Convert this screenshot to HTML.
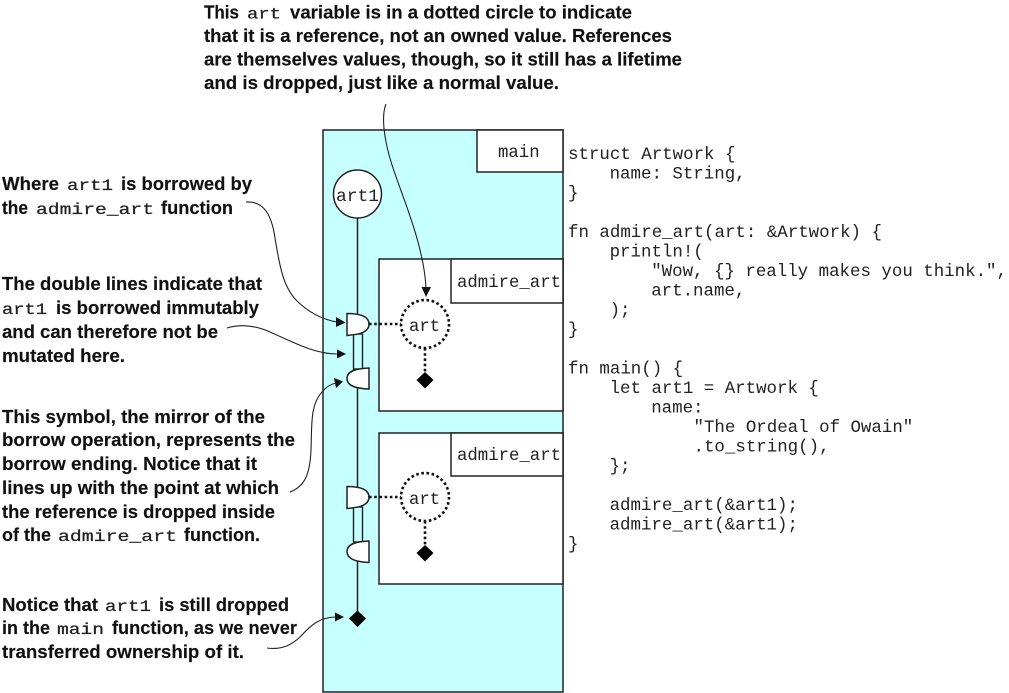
<!DOCTYPE html>
<html><head><meta charset="utf-8"><style>
html,body{margin:0;padding:0;background:#fff}
svg{display:block}
.b{font:bold 18.8px "Liberation Sans",sans-serif;fill:#111;stroke:#111;stroke-width:.15}
.m{font:16px "Liberation Mono",monospace;fill:#222;stroke:#222;stroke-width:.25}
.c{font:17.45px "Liberation Mono",monospace;fill:#222;white-space:pre}
.l{font:17.33px "Liberation Mono",monospace;fill:#222}
.box{stroke:#222;stroke-width:1.5}
.w{fill:#fff;stroke:#222;stroke-width:1.5}
.a{fill:none;stroke:#222;stroke-width:1.1}
.d{fill:none;stroke:#111;stroke-width:2.6;stroke-dasharray:2.6 2.6}
</style></head><body>
<svg width="1009" height="693" viewBox="0 0 1009 693" xmlns="http://www.w3.org/2000/svg">
<rect x="323" y="130" width="240" height="562" fill="#c6ffff" class="box"/>
<rect x="477" y="130" width="86" height="42" class="w"/>
<text class="l" x="498" y="157">main</text>

<line x1="357.5" y1="218" x2="357.5" y2="618" stroke="#222" stroke-width="1.5"/>
<circle cx="357.5" cy="194" r="24" class="w"/>
<text class="l" x="336" y="201" textLength="43" lengthAdjust="spacingAndGlyphs">art1</text>

<rect x="379" y="259" width="184" height="152" class="w"/>
<rect x="451" y="259" width="112" height="44" class="w"/>
<text class="l" x="457" y="287" textLength="104" lengthAdjust="spacingAndGlyphs">admire_art</text>
<rect x="379" y="433" width="184" height="151" class="w"/>
<rect x="451" y="433" width="112" height="43" class="w"/>
<text class="l" x="457" y="460" textLength="104" lengthAdjust="spacingAndGlyphs">admire_art</text>

<!-- double lines -->
<rect x="353.5" y="334" width="9" height="35" fill="#c6ffff" stroke="#222" stroke-width="1.4"/>
<rect x="353.5" y="507" width="9" height="35" fill="#c6ffff" stroke="#222" stroke-width="1.4"/>

<!-- borrow symbols -->
<path d="M347 313.5 C360 313.5 369 316 369 324 C369 332 360 334.5 347 335.5 Z" class="w"/>
<path d="M369 368 C356 368.5 347 371 347 378.5 C347 386 356 388.5 369 389 Z" class="w"/>
<path d="M347 486.5 C360 486.5 369 489 369 497 C369 505 360 507.5 347 508.5 Z" class="w"/>
<path d="M369 541 C356 541.5 347 544 347 551.5 C347 559 356 562 369 562.5 Z" class="w"/>

<!-- art circles -->
<line x1="369" y1="324" x2="401" y2="324" class="d"/>
<line x1="425" y1="348" x2="425" y2="372" class="d"/>
<circle cx="425" cy="324" r="24" class="d" style="fill:#fff"/>
<text class="l" x="409" y="331" textLength="31" lengthAdjust="spacingAndGlyphs">art</text>
<path d="M425 372 L433.5 380 L425 388.5 L416.5 380 Z" fill="#000"/>
<line x1="369" y1="497" x2="401" y2="497" class="d"/>
<line x1="425" y1="521" x2="425" y2="545" class="d"/>
<circle cx="425" cy="497" r="24" class="d" style="fill:#fff"/>
<text class="l" x="409" y="504" textLength="31" lengthAdjust="spacingAndGlyphs">art</text>
<path d="M425 545 L433.5 553 L425 561.5 L416.5 553 Z" fill="#000"/>
<path d="M357.5 610.5 L366 618.5 L357.5 627 L349 618.5 Z" fill="#000"/>

<!-- arrows -->
<path class="a" d="M386 104 C381 116 384 140 392 165 C402 196 424 245 426 288"/>
<path d="M421.5 287 L431 287 L426 297 Z" fill="#111"/>
<path class="a" d="M246 202 C262 201 270 212 274 232 C279 262 282 285 296 300 C310 314 325 320 337 322"/>
<path d="M336 317 L345.5 322.5 L336 327 Z" fill="#111"/>
<path class="a" d="M227 328 C240 324 254 325 270 332 C295 343 315 354 337 354"/>
<path d="M337 349.5 L346 354 L337 358.5 Z" fill="#111"/>
<path class="a" d="M290 492 C306 486 310 472 311 450 C312 425 310 405 322 392 C326 387 331 384 336 383"/>
<path d="M334 378 L343 381.5 L336 388 Z" fill="#111"/>
<path class="a" d="M267 648 C282 650 292 645 301 636 C311 625 320 617 336 617"/>
<path d="M335 612.5 L344 617 L335 621.5 Z" fill="#111"/>

<!-- top note -->
<text class="b" x="204" y="18.5" textLength="35" lengthAdjust="spacingAndGlyphs">This</text>
<text class="m" x="247" y="18.5" textLength="34" lengthAdjust="spacingAndGlyphs">art</text>
<text class="b" x="290" y="18.5" textLength="342" lengthAdjust="spacingAndGlyphs">variable is in a dotted circle to indicate</text>
<text class="b" x="204" y="42" textLength="468" lengthAdjust="spacingAndGlyphs">that it is a reference, not an owned value. References</text>
<text class="b" x="204" y="65.5" textLength="478" lengthAdjust="spacingAndGlyphs">are themselves values, though, so it still has a lifetime</text>
<text class="b" x="204" y="89" textLength="355" lengthAdjust="spacingAndGlyphs">and is dropped, just like a normal value.</text>

<!-- left notes -->
<text class="b" x="2" y="190" textLength="57" lengthAdjust="spacingAndGlyphs">Where</text>
<text class="m" x="67" y="190" textLength="46" lengthAdjust="spacingAndGlyphs">art1</text>
<text class="b" x="121" y="190" textLength="131" lengthAdjust="spacingAndGlyphs">is borrowed by</text>
<text class="b" x="2" y="214" textLength="26" lengthAdjust="spacingAndGlyphs">the</text>
<text class="m" x="36" y="214" textLength="118" lengthAdjust="spacingAndGlyphs">admire_art</text>
<text class="b" x="161" y="214" textLength="72" lengthAdjust="spacingAndGlyphs">function</text>

<text class="b" x="2" y="290" textLength="260" lengthAdjust="spacingAndGlyphs">The double lines indicate that</text>
<text class="m" x="2" y="314" textLength="45" lengthAdjust="spacingAndGlyphs">art1</text>
<text class="b" x="56" y="314" textLength="203" lengthAdjust="spacingAndGlyphs">is borrowed immutably</text>
<text class="b" x="2" y="338" textLength="216" lengthAdjust="spacingAndGlyphs">and can therefore not be</text>
<text class="b" x="2" y="362" textLength="123" lengthAdjust="spacingAndGlyphs">mutated here.</text>

<text class="b" x="2" y="423" textLength="263" lengthAdjust="spacingAndGlyphs">This symbol, the mirror of the</text>
<text class="b" x="2" y="446" textLength="293" lengthAdjust="spacingAndGlyphs">borrow operation, represents the</text>
<text class="b" x="2" y="470" textLength="255" lengthAdjust="spacingAndGlyphs">borrow ending. Notice that it</text>
<text class="b" x="2" y="494" textLength="277" lengthAdjust="spacingAndGlyphs">lines up with the point at which</text>
<text class="b" x="2" y="518" textLength="273" lengthAdjust="spacingAndGlyphs">the reference is dropped inside</text>
<text class="b" x="2" y="541" textLength="49" lengthAdjust="spacingAndGlyphs">of the</text>
<text class="m" x="58" y="541" textLength="119" lengthAdjust="spacingAndGlyphs">admire_art</text>
<text class="b" x="184" y="541" textLength="76" lengthAdjust="spacingAndGlyphs">function.</text>

<text class="b" x="2" y="611" textLength="96" lengthAdjust="spacingAndGlyphs">Notice that</text>
<text class="m" x="105" y="611" textLength="46" lengthAdjust="spacingAndGlyphs">art1</text>
<text class="b" x="159" y="611" textLength="130" lengthAdjust="spacingAndGlyphs">is still dropped</text>
<text class="b" x="2" y="634" textLength="48" lengthAdjust="spacingAndGlyphs">in the</text>
<text class="m" x="57" y="634" textLength="47" lengthAdjust="spacingAndGlyphs">main</text>
<text class="b" x="112" y="634" textLength="185" lengthAdjust="spacingAndGlyphs">function, as we never</text>
<text class="b" x="2" y="658" textLength="242" lengthAdjust="spacingAndGlyphs">transferred ownership of it.</text>

<!-- code -->
<text class="c" x="568" y="159">struct Artwork {</text>
<text class="c" x="609.6" y="178.5">name: String,</text>
<text class="c" x="568" y="198">}</text>
<text class="c" x="568" y="237">fn admire_art(art: &amp;Artwork) {</text>
<text class="c" x="609.6" y="256.5">println!(</text>
<text class="c" x="651.2" y="276">"Wow, {} really makes you think.",</text>
<text class="c" x="651.2" y="295.5">art.name,</text>
<text class="c" x="609.6" y="315">);</text>
<text class="c" x="568" y="334.5">}</text>
<text class="c" x="568" y="373.5">fn main() {</text>
<text class="c" x="609.6" y="393">let art1 = Artwork {</text>
<text class="c" x="651.2" y="412.5">name:</text>
<text class="c" x="693.5" y="432">"The Ordeal of Owain"</text>
<text class="c" x="693.5" y="451.5">.to_string(),</text>
<text class="c" x="609.6" y="471">};</text>
<text class="c" x="609.6" y="510">admire_art(&amp;art1);</text>
<text class="c" x="609.6" y="529.5">admire_art(&amp;art1);</text>
<text class="c" x="568" y="549">}</text>
</svg>
</body></html>
